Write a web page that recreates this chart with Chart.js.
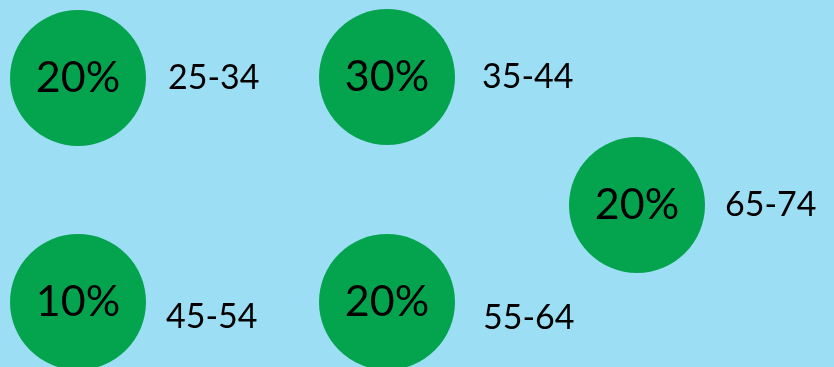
<!DOCTYPE html>
<html>
<head>
<meta charset="utf-8">
<script src="https://cdn.jsdelivr.net/npm/chart.js@4"></script>
<style>
  html, body { margin: 0; padding: 0; background: #9cdef4; }
  #wrap { width: 834px; height: 367px; }
</style>
</head>
<body>
<div id="wrap"><canvas id="ageChart" width="834" height="367"></canvas></div>
<script>
// age groups and their share
const ageGroups = ["25-34", "35-44", "65-74", "45-54", "55-64"];
const shares = [20, 30, 20, 10, 20];
// where each bubble sits on the (hidden) layout scales
const posX = [78, 387, 637, 78, 387];
const posY = [78, 77, 205, 302, 302];
// label nudges beside each bubble
const labelDx = [90, 95, 88, 88, 96];
const labelDy = [0, 0, 0, 15, 16];

const green = "#04a44f";

// let the bubbles run to the canvas edge instead of shrinking the plot area
Chart.BubbleController.prototype.getMaxOverflow = function () { return 0; };

const labelPlugin = {
  id: "bubbleLabels",
  afterDatasetsDraw(chart) {
    const ctx = chart.ctx;
    const meta = chart.getDatasetMeta(0);
    ctx.save();
    ctx.fillStyle = "#000";
    ctx.textBaseline = "middle";
    meta.data.forEach(function (pt, i) {
      ctx.font = "43px Lato";
      ctx.textAlign = "center";
      ctx.fillText(shares[i] + "%", pt.x, pt.y);
      ctx.font = "34px Lato";
      ctx.textAlign = "left";
      ctx.fillText(ageGroups[i], pt.x + labelDx[i], pt.y + labelDy[i]);
    });
    ctx.restore();
  }
};

new Chart(document.getElementById("ageChart").getContext("2d"), {
  type: "bubble",
  data: {
    labels: ageGroups,
    datasets: [{
      data: shares.map(function (s, i) { return { x: posX[i], y: posY[i], r: 68 }; }),
      backgroundColor: green,
      borderWidth: 0,
      hoverRadius: 0,
      clip: false
    }]
  },
  options: {
    responsive: false,
    animation: false,
    layout: { padding: 0 },
    plugins: { legend: { display: false }, tooltip: { enabled: false } },
    scales: {
      x: { type: "linear", min: 0, max: 834, display: false },
      y: { type: "linear", min: 0, max: 367, reverse: true, display: false }
    }
  },
  plugins: [labelPlugin]
});
</script>
</body>
</html>
